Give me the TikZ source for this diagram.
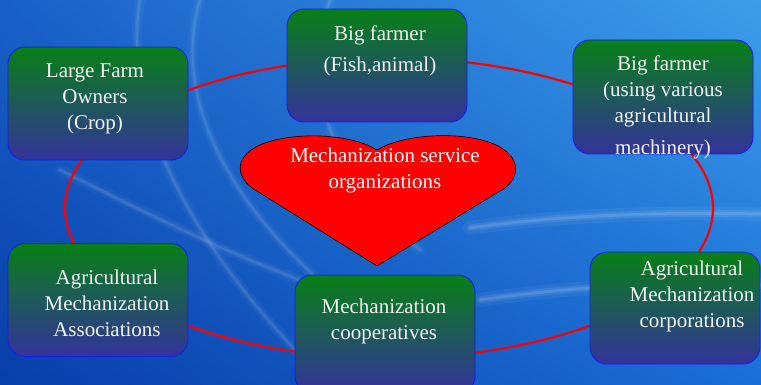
\documentclass[tikz,border=0pt]{standalone}
\usepackage{fontspec}
\setmainfont{Liberation Serif}
\usetikzlibrary{shadings}
\definecolor{bxtop}{RGB}{8,128,22}
\definecolor{bxbot}{RGB}{52,50,155}
\definecolor{bxline}{RGB}{20,30,240}
\definecolor{bgUL}{RGB}{24,96,200}
\definecolor{bgUR}{RGB}{60,158,234}
\definecolor{bgLL}{RGB}{8,62,168}
\definecolor{bgLR}{RGB}{26,110,214}
\definecolor{txtc}{RGB}{242,242,242}
\begin{document}
\begin{tikzpicture}[x=1pt,y=-1pt,
  box/.style={draw=bxline, line width=0.9pt, rounded corners=17pt,
    top color=bxtop, bottom color=bxbot, inner sep=0pt},
  txt/.style={text=txtc, align=center, inner sep=0pt,
    font=\rmfamily\fontsize{21}{26}\selectfont},
  ring/.style={draw=red, line width=2.2pt},
  streak/.style={draw=white, line cap=round}]
\useasboundingbox (0,0) rectangle (761,385);
\clip (0,0) rectangle (761,385);
% background
\shade[upper left=bgUL, upper right=bgUR, lower left=bgLL, lower right=bgLR]
  (0,0) rectangle (761,385);
% light streaks (soft glows)
\foreach \w/\o in {10/0.04,5/0.06,2/0.08} {
  \draw[streak, line width=\w pt, opacity=\o] (140,0) .. controls (120,120) and (200,260) .. (330,385);
  \draw[streak, line width=\w pt, opacity=\o] (200,0) .. controls (170,100) and (230,220) .. (380,330);
  \draw[streak, line width=\w pt, opacity=\o] (60,170) .. controls (180,230) and (280,280) .. (420,320);
  \draw[streak, line width=\w pt, opacity=\o] (330,0) .. controls (300,80) and (330,180) .. (420,250);
}
\foreach \w/\o in {14/0.05,7/0.08,3/0.12} {
  \draw[streak, line width=\w pt, opacity=\o] (470,228) .. controls (560,215) and (660,212) .. (761,214);
  \draw[streak, line width=\w pt, opacity=\o] (480,300) .. controls (580,285) and (680,282) .. (761,285);
}
% ring
\draw[ring] (389,208) ellipse [x radius=324pt, y radius=150pt];
% boxes
\node[box, minimum width=180pt, minimum height=113pt] (b1) at (98,103.5) {};
\node[box, minimum width=180pt, minimum height=113pt] (b2) at (377,65.5) {};
\node[box, minimum width=180pt, minimum height=114pt] (b3) at (663,97) {};
\node[box, minimum width=180pt, minimum height=113pt] (b4) at (98,300) {};
\node[box, minimum width=180pt, minimum height=118pt] (b5) at (385,334) {};
\node[box, minimum width=170pt, minimum height=112pt] (b6) at (675,308) {};
% texts
\node[txt] (t1) at (95,98.5) {Large Farm\\Owners\\(Crop)};
\node[txt] (t2) at (380,50.5) {Big farmer\\[5pt](Fish,animal)};
\node[txt] (t3) at (663,107) {Big farmer\\(using various\\agricultural\\[6pt]machinery)};
\node[txt] (t4) at (107,303) {Agricultural\\Mechanization\\Associations};
\node[txt] (t5) at (384,321.5) {Mechanization\\cooperatives};
\node[txt] (t6) at (692,296.5) {Agricultural\\Mechanization\\corporations};
% heart
\draw[fill=red, draw=black, line width=0.6pt]
  (377,266) -- (252,188)
  .. controls (234,174) and (236,155) .. (262,144)
  .. controls (296,131) and (352,134) .. (377,150)
  .. controls (404,133) and (470,130) .. (500,147)
  .. controls (522,160) and (518,178) .. (505,188) -- cycle;
\coordinate (tip) at (377,266);
\node[txt, text=white] (h) at (385,170) {Mechanization service\\organizations};
\end{tikzpicture}
\end{document}
